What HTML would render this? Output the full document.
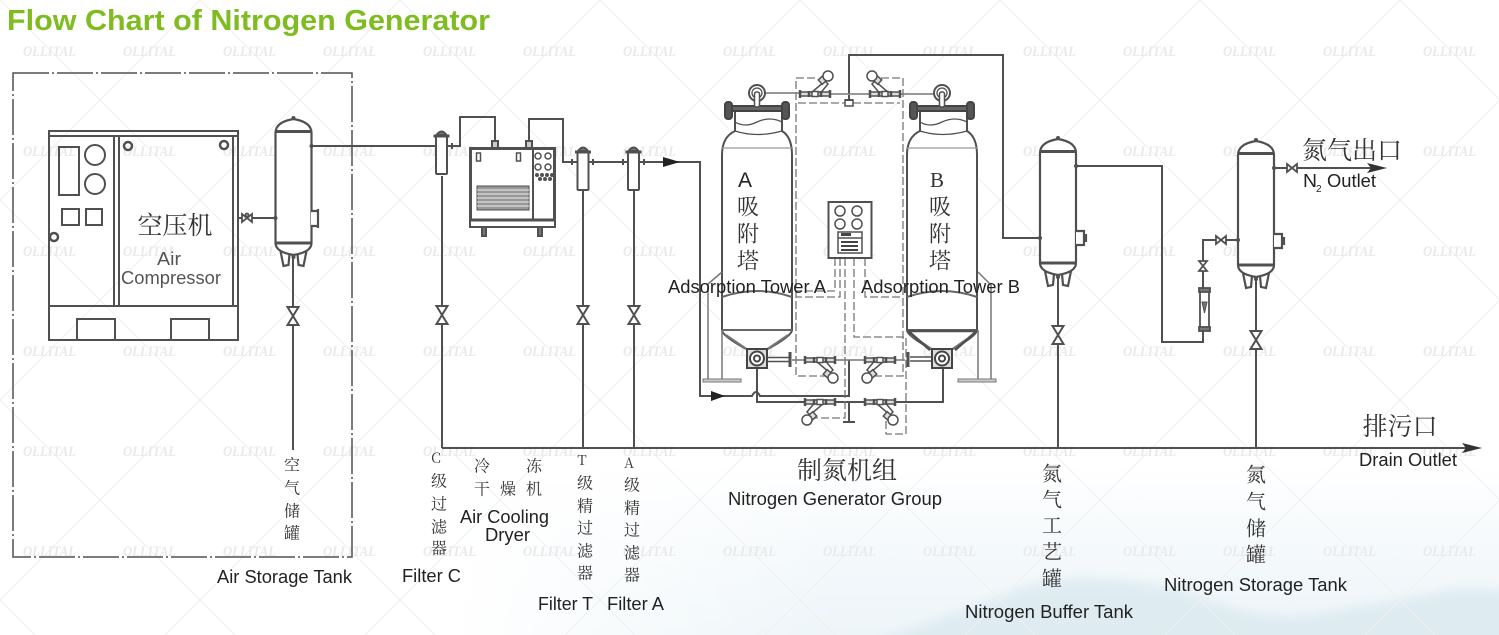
<!DOCTYPE html>
<html><head><meta charset="utf-8"><style>
html,body{margin:0;padding:0;background:#fff}
svg{display:block}
.s{fill:none;stroke:#505050;stroke-width:2}
.t{font-family:"Liberation Sans",sans-serif;font-size:18px;fill:#222}
.c{font-family:"Noto Serif CJK SC","Liberation Serif",serif;fill:#333;text-anchor:middle;dominant-baseline:central}
</style></head><body>
<svg xmlns="http://www.w3.org/2000/svg" width="1499" height="635" viewBox="0 0 1499 635">
<defs>
<linearGradient id="sky" x1="0" y1="0" x2="0" y2="1"><stop offset="0" stop-color="#fff"/><stop offset="0.5" stop-color="#f5f9fb"/><stop offset="1" stop-color="#edf5f8"/></linearGradient>
<linearGradient id="fade" x1="0" y1="0" x2="1" y2="0"><stop offset="0.3" stop-color="#fff" stop-opacity="1"/><stop offset="0.56" stop-color="#fff" stop-opacity="0"/></linearGradient>
<filter id="b" x="-10%" y="-30%" width="120%" height="160%"><feGaussianBlur stdDeviation="5"/></filter>
<pattern id="lat" width="200" height="200" patternUnits="userSpaceOnUse"><path d="M0,0L200,200M200,0L0,200" stroke="#f0f0f0" stroke-width="1" fill="none"/></pattern>
<pattern id="wm" width="100" height="100" patternUnits="userSpaceOnUse"><text x="23" y="56" textLength="53" lengthAdjust="spacingAndGlyphs" style="font:italic bold 15px 'Liberation Serif',serif" fill="#e9e9e9">OLLITAL</text></pattern>
<g id="vv"><path d="M-5.500,-9L5.500,-9L0,0L5.500,9L-5.500,9L0,0Z" fill="#fff" stroke="#505050" stroke-width="2"/></g>
<g id="tank" fill="#fff" stroke="#505050" stroke-width="2.200">
 <path d="M5,133L8,148L13,147L14,136M31,133L28,148L23,147L22,136" fill="none"/>
 <path d="M0,125L0,15Q0,4 18,1Q36,4 36,15L36,125Q36,134 18,137Q0,134 0,125Z"/>
 <path d="M0,13.500H36M0,125H36" stroke-width="3"/>
 <circle cx="18" cy="139" r="2" fill="#505050" stroke="none"/>
 <circle cx="18" cy="0" r="2" fill="#505050" stroke="none"/>
</g>
<g id="flt" fill="#fff" stroke="#505050" stroke-width="2">
 <rect x="-5.500" y="3" width="11" height="38" rx="1"/>
 <path d="M-5,2Q0,-5 5,2Z" fill="#777"/>
 <path d="M-8,3H8" stroke-width="3"/>
</g>
<g id="yv" fill="#fff" stroke="#505050" stroke-width="1.500">
 <path d="M-4,-1L10,-13L13,-10L3,2" />
 <g transform="rotate(-42 11 -13)"><rect x="6" y="-19" width="10" height="6" fill="#ddd"/></g>
 <circle cx="13" cy="-18" r="5"/>
 <rect x="-15" y="-2" width="30" height="4" fill="#ddd"/>
 <rect x="-3" y="-2.500" width="6" height="5" fill="#fff"/>
 <path d="M-15,-4V4M15,-4V4M-6,-3V3M6,-3V3" stroke-width="2.500"/>
</g>
<g id="tow" fill="#fff" stroke="#505050" stroke-width="2">
 <path d="M722,330L722,155Q722,137 735,131L735,110H782V131Q792,137 792,155L792,330Q792,336 766,350H748Q722,336 722,330Z"/>
 <path d="M735,122Q745,128 757,122Q770,116 782,122M735,131Q757,138 782,131" stroke-width="1.300" fill="none"/>
 <path d="M722,148H792" stroke="#999" stroke-width="1.200"/>
 <path d="M722,297Q757,285 792,297M722,330H792" stroke="#666" fill="none"/>
 <path d="M726,335L748,350M788,335L766,350" stroke="#777" fill="none"/>
 <rect x="728" y="106" width="57" height="5" fill="#666" stroke="#444"/>
 <rect x="725" y="102" width="7" height="17" rx="3" fill="#555" stroke="#444"/>
 <rect x="782" y="102" width="7" height="17" rx="3" fill="#555" stroke="#444"/>
 <circle cx="757" cy="93" r="8"/><circle cx="757" cy="93" r="5" stroke-width="1.300"/>
 <rect x="754.500" y="92" width="5" height="15" rx="2" fill="#fff" stroke-width="1.500"/>
 <rect x="747" y="349" width="20" height="19" fill="#ddd" stroke="#444"/>
 <circle cx="757" cy="358.500" r="7" stroke="#444"/><circle cx="757" cy="358.500" r="3" stroke="#444"/>
</g>
</defs>

<rect width="1499" height="635" fill="#fff"/>
<rect y="465" width="1499" height="170" fill="url(#sky)"/>
<g filter="url(#b)" fill="#d8e8ef">
 <path d="M880,640Q960,612 1010,592Q1050,576 1090,578Q1140,578 1200,596Q1250,618 1300,616Q1380,604 1450,590Q1480,586 1510,592V650H880Z" opacity=".75"/>
</g>
<rect y="465" width="1499" height="170" fill="url(#fade)"/>
<rect width="1499" height="635" fill="url(#lat)"/>
<rect width="1499" height="600" fill="url(#wm)"/>

<!-- compressor enclosure -->
<rect x="13" y="73" width="339" height="484" fill="none" stroke="#505050" stroke-width="1.500" stroke-dasharray="36 3 2 3"/>

<!-- compressor -->
<g class="s">
 <rect x="49" y="131" width="189" height="209"/>
 <path d="M49,136H238M49,306H238M114,136V306M119,136V306M233,136V306"/>
 <path d="M77,340V319H115V340M171,340V319H209V340"/>
 <rect x="59" y="147" width="20" height="48"/>
 <circle cx="95" cy="155" r="10"/><circle cx="95" cy="184" r="10"/>
 <rect x="62" y="209" width="17" height="16"/><rect x="86" y="209" width="16" height="16"/>
 <g stroke-width="2.500"><circle cx="54" cy="237" r="4"/><circle cx="128" cy="146" r="4"/><circle cx="224" cy="145" r="4"/></g>
</g>

<!-- pipes -->
<g class="s">
 <path d="M238,218H276M293,258V450M312,146H436M442,176V448"/>
 <path d="M447,146H460V117H495V147M529,147V119H563V162H577M588,162H628M639,162H700V396H752Q756,388 760,396H849V360"/>
 <path d="M583,190V448M634,190V448M442,448H1470"/>
 <path d="M849,94V55H1003V238H1040M1076,166H1162V342H1203V330M1203,288V240H1238M1274,168H1375"/>
 <path d="M1058,278V448M1256,280V448"/>
 <path d="M757,368V402H943V368M849,402V422M843,422H855"/>
 <path d="M765,93H800M830,94H870M900,94H934M792,360H905" stroke="#777" stroke-width="1.600"/>
 <path d="M767,357.500H790M767,361.500H790M910,357H933M910,361H933" stroke-width="1.500"/>
 <path d="M790,352V367M908,352V367" stroke-width="3"/>
</g>
<path d="M1482,448L1462,443L1466,448L1462,453Z" fill="#333"/>
<path d="M1387,168L1367,163L1371,168L1367,173Z" fill="#333"/>
<path d="M680,162L663,157L663,167Z" fill="#222"/>
<path d="M725,396L711,391L711,401Z" fill="#222"/>

<!-- small valves on branch pipes -->
<use href="#vv" x="293" y="316"/><use href="#vv" x="442" y="315"/><use href="#vv" x="583" y="315"/><use href="#vv" x="634" y="315"/>
<use href="#vv" x="1058" y="335"/><use href="#vv" x="1256" y="340"/>

<!-- inline valves -->
<g fill="#fff" stroke="#505050" stroke-width="1.800">
 <path d="M242,214L252,222V214L242,222Z"/><circle cx="247" cy="215" r="1.500"/>
 <path d="M1216,236L1226,244V236L1216,244Z"/>
 <path d="M1287,164L1297,172V164L1287,172Z"/>
 <path d="M1199,261L1207,271H1199L1207,261Z"/>
</g>

<!-- tanks -->
<use href="#tank" x="275.500" y="118"/>
<use href="#tank" x="1040" y="138"/>
<use href="#tank" x="1238" y="140"/>
<g fill="#fff" stroke="#505050" stroke-width="2.200">
 <path d="M311,211H318V226H311M318,209V228"/>
 <path d="M1076,231H1084V245H1076M1086,234V242" />
 <path d="M1274,234H1282V248H1274M1284,237V245"/>
</g>
<g fill="#505050"><circle cx="311.500" cy="146" r="2"/><circle cx="275.500" cy="218" r="2"/><circle cx="1040" cy="238" r="2"/><circle cx="1076" cy="166" r="2"/><circle cx="1238" cy="240" r="2"/><circle cx="1274" cy="168" r="2"/></g>

<!-- filters -->
<use href="#flt" x="441.500" y="133"/><use href="#flt" x="583" y="149"/><use href="#flt" x="633.500" y="149"/>
<g fill="#505050"><rect x="451" y="143" width="2" height="6"/><rect x="571" y="159" width="2" height="6"/><rect x="592" y="159" width="2" height="6"/><rect x="622" y="159" width="2" height="6"/><rect x="643" y="159" width="2" height="6"/></g>

<!-- dryer -->
<g fill="#fff" stroke="#505050" stroke-width="2">
 <rect x="492" y="141" width="6" height="7" fill="#ccc"/><rect x="526" y="141" width="6" height="7" fill="#ccc"/>
 <rect x="482" y="227" width="4" height="9" fill="#777"/><rect x="538" y="227" width="4" height="9" fill="#777"/>
 <rect x="470" y="220" width="85" height="7"/>
 <rect x="470.500" y="148.500" width="84" height="71.500" stroke-width="3"/>
 <path d="M533,149V219"/>
 <rect x="476.500" y="153" width="4" height="8" stroke-width="1.500"/><rect x="516.500" y="153" width="4" height="8" stroke-width="1.500"/>
 <circle cx="538" cy="156" r="3" stroke-width="1.500"/><circle cx="548" cy="156" r="3" stroke-width="1.500"/>
 <circle cx="538" cy="167" r="3" stroke-width="1.500"/><circle cx="548" cy="167" r="3" stroke-width="1.500"/>
 <rect x="477" y="186" width="52" height="24" fill="#999" stroke-width="1"/>
</g>
<path d="M477,190H529M477,194H529M477,198H529M477,202H529M477,206H529" stroke="#eee" stroke-width="1"/>
<g fill="#505050"><circle cx="537" cy="175" r="2"/><circle cx="542" cy="175" r="2"/><circle cx="547" cy="175" r="2"/><circle cx="552" cy="175" r="2"/><circle cx="540" cy="179" r="2"/><circle cx="545" cy="179" r="2"/><circle cx="550" cy="179" r="2"/></g>

<!-- dashed control lines -->
<g fill="none" stroke="#777" stroke-width="1.300" stroke-dasharray="8 3">
 <path d="M815,78H796V376H830M870,78H903V376H870M798,103H900"/>
 <path d="M835,258V291H796M840,258V297H796M845,258V418H815M854,258V337H906V434H886V412M865,258V297H903"/>
</g>

<!-- towers -->
<use href="#tow"/>
<use href="#tow" x="185"/>
<path d="M907,330L930,350M978,330L955,350M907,331H978" stroke="#505050" stroke-width="2.500" fill="none"/>
<g fill="none" stroke="#777" stroke-width="2">
 <path d="M722,272L708,284V380M722,330V380" stroke-width="1.500"/>
 <rect x="703" y="379" width="38" height="3" fill="#ccc" stroke-width="1"/>
 <path d="M978,272L991,285V380M978,330V380" stroke-width="1.500"/>
 <rect x="958" y="379" width="38" height="3" fill="#ccc" stroke-width="1"/>
</g>

<!-- y-valves -->
<use href="#yv" transform="translate(815,94)"/>
<use href="#yv" transform="translate(885,94) scale(-1,1)"/>
<use href="#yv" transform="translate(820,360) scale(1,-1)"/>
<use href="#yv" transform="translate(880,360) scale(-1,-1)"/>
<use href="#yv" transform="translate(820,402) scale(-1,-1)"/>
<use href="#yv" transform="translate(880,402) scale(1,-1)"/>
<rect x="845" y="100" width="8" height="6" fill="#fff" stroke="#505050" stroke-width="1.500"/><path d="M849,95V100M845,100H853" stroke="#505050" stroke-width="2"/>

<!-- control panel -->
<g fill="#fff" stroke="#505050" stroke-width="2">
 <rect x="828.500" y="202" width="43" height="56"/>
 <g stroke-width="1.500"><circle cx="840" cy="211" r="5"/><circle cx="857" cy="211" r="5"/><circle cx="840" cy="224" r="5"/><circle cx="857" cy="224" r="5"/>
 <rect x="838" y="232" width="24" height="21"/><path d="M838,238H862"/></g>
</g>
<g fill="#444"><rect x="841" y="233" width="10" height="3"/><rect x="841" y="241" width="17" height="2"/><rect x="841" y="245" width="17" height="2"/><rect x="841" y="249" width="17" height="2"/></g>

<!-- flow meter -->
<g fill="#fff" stroke="#505050" stroke-width="1.800">
 <rect x="1200" y="291" width="9" height="37"/><rect x="1199" y="288" width="11" height="4" fill="#777"/><rect x="1199" y="327" width="11" height="4" fill="#777"/>
 <path d="M1202,302H1207L1204.500,313Z" fill="#777" stroke-width="1"/>
</g>

<!-- text -->
<text x="7" y="30" textLength="483" lengthAdjust="spacingAndGlyphs" style="font:bold 29px 'Liberation Sans',sans-serif" fill="#7fbc1f">Flow Chart of Nitrogen Generator</text>

<text class="c" x="175" y="224" font-size="25">空压机</text>
<text class="t" x="157" y="265" textLength="24" lengthAdjust="spacingAndGlyphs" style="fill:#555">Air</text>
<text class="t" x="121" y="284" textLength="100" lengthAdjust="spacingAndGlyphs" style="fill:#555">Compressor</text>

<g font-size="16">
 <text class="c" x="292" y="464">空</text><text class="c" x="292" y="487">气</text><text class="c" x="292" y="510">储</text><text class="c" x="292" y="532">罐</text>
 <text class="c" x="436" y="458" font-size="14">C</text><text class="c" x="439" y="480">级</text><text class="c" x="439" y="503">过</text><text class="c" x="439" y="526">滤</text><text class="c" x="439" y="547">器</text>
 <text class="c" x="482" y="465">冷</text><text class="c" x="534" y="465">冻</text><text class="c" x="482" y="488">干</text><text class="c" x="508" y="488">燥</text><text class="c" x="534" y="488">机</text>
 <text class="c" x="582" y="460" font-size="14">T</text><text class="c" x="585" y="482">级</text><text class="c" x="585" y="505">精</text><text class="c" x="585" y="527">过</text><text class="c" x="585" y="550">滤</text><text class="c" x="585" y="572">器</text>
 <text class="c" x="629" y="463" font-size="14">A</text><text class="c" x="632" y="484">级</text><text class="c" x="632" y="507">精</text><text class="c" x="632" y="529">过</text><text class="c" x="632" y="552">滤</text><text class="c" x="632" y="574">器</text>
</g>
<g font-size="20">
 <text class="c" x="1052" y="472">氮</text><text class="c" x="1052" y="498">气</text><text class="c" x="1052" y="524">工</text><text class="c" x="1052" y="550">艺</text><text class="c" x="1052" y="577">罐</text>
 <text class="c" x="1256" y="473">氮</text><text class="c" x="1256" y="500">气</text><text class="c" x="1256" y="527">储</text><text class="c" x="1256" y="553">罐</text>
</g>
<g font-size="22">
 <text x="745" y="187" text-anchor="middle" style="font:21px 'Liberation Sans',sans-serif" fill="#222">A</text><text class="c" x="748" y="206">吸</text><text class="c" x="748" y="233">附</text><text class="c" x="748" y="260">塔</text>
 <text x="937" y="187" text-anchor="middle" style="font:21px 'Liberation Serif',serif" fill="#333">B</text><text class="c" x="940" y="206">吸</text><text class="c" x="940" y="233">附</text><text class="c" x="940" y="260">塔</text>
</g>
<text class="c" x="847" y="469" font-size="25">制氮机组</text>
<text class="c" x="1400" y="425" font-size="25">排污口</text>
<text class="c" x="1352" y="149" font-size="25">氮气出口</text>

<text class="t" x="668" y="293" textLength="158" lengthAdjust="spacingAndGlyphs">Adsorption Tower A</text>
<text class="t" x="861" y="293" textLength="159" lengthAdjust="spacingAndGlyphs">Adsorption Tower B</text>
<text class="t" x="217" y="583" textLength="135" lengthAdjust="spacingAndGlyphs">Air Storage Tank</text>
<text class="t" x="402" y="582" textLength="59" lengthAdjust="spacingAndGlyphs">Filter C</text>
<text class="t" x="460" y="523" textLength="89" lengthAdjust="spacingAndGlyphs">Air Cooling</text>
<text class="t" x="485" y="541" textLength="45" lengthAdjust="spacingAndGlyphs">Dryer</text>
<text class="t" x="538" y="610" textLength="55" lengthAdjust="spacingAndGlyphs">Filter T</text>
<text class="t" x="607" y="610" textLength="57" lengthAdjust="spacingAndGlyphs">Filter A</text>
<text class="t" x="728" y="505" textLength="214" lengthAdjust="spacingAndGlyphs">Nitrogen Generator Group</text>
<text class="t" x="965" y="618" textLength="168" lengthAdjust="spacingAndGlyphs">Nitrogen Buffer Tank</text>
<text class="t" x="1164" y="591" textLength="183" lengthAdjust="spacingAndGlyphs">Nitrogen Storage Tank</text>
<text class="t" x="1359" y="466" textLength="98" lengthAdjust="spacingAndGlyphs">Drain Outlet</text>
<text class="t" x="1303" y="187" textLength="14" lengthAdjust="spacingAndGlyphs">N</text>
<text class="t" x="1316" y="192" style="font-size:10px">2</text>
<text class="t" x="1327" y="187" textLength="49" lengthAdjust="spacingAndGlyphs">Outlet</text>
</svg>
</body></html>
